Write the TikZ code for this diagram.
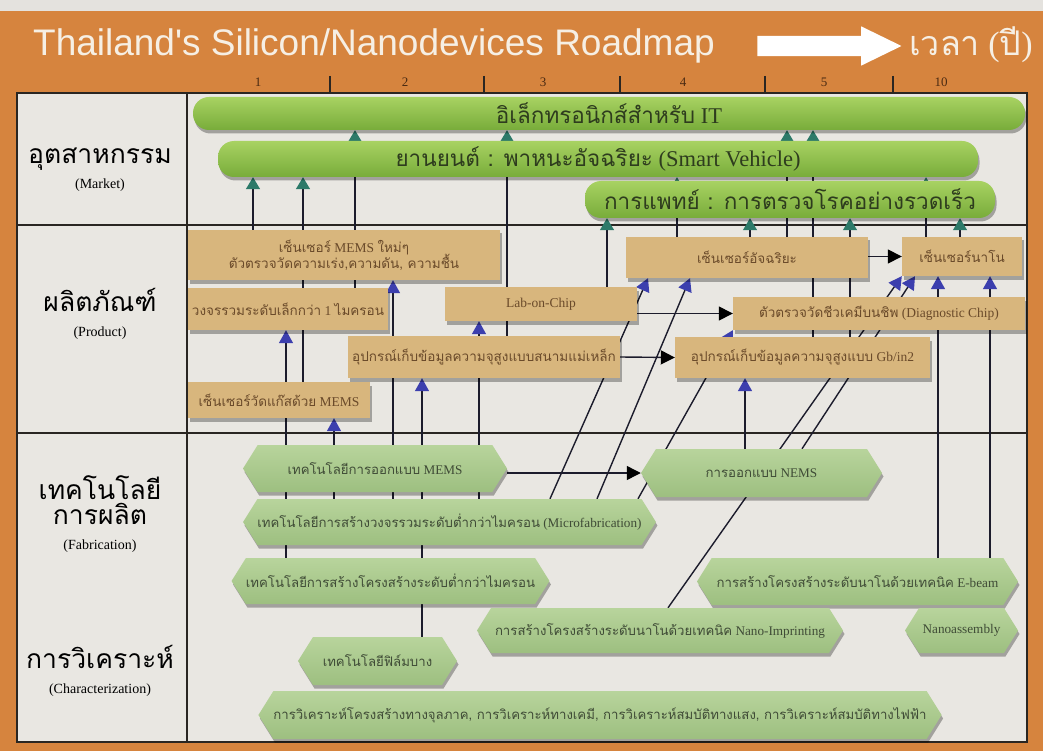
\documentclass[tikz,border=0pt]{standalone}
\usepackage{fontspec}
\setmainfont{Liberation Serif}
\newfontfamily\thai[Script=Thai]{Loma}
\newfontfamily\titlefont{Liberation Sans}
\usetikzlibrary{arrows.meta,shapes.symbols,shapes.arrows,shadows}
\pgfdeclarelayer{panel}
\pgfdeclarelayer{links}
\pgfsetlayers{panel,links,main}
\newcommand\tht[1]{{\thai #1}}
\newcommand\rowsubfont{\fontsize{14}{16}\selectfont}

\definecolor{orangebg}{HTML}{D6843E}
\definecolor{paper}{HTML}{E4E2DE}
\definecolor{panelbg}{HTML}{E9E7E2}
\definecolor{rulecol}{HTML}{2A2622}
\definecolor{mkttop}{HTML}{A8D262}
\definecolor{mktbot}{HTML}{78AC3A}
\definecolor{mkttext}{HTML}{2E3C1E}
\definecolor{prodfill}{HTML}{D8B67D}
\definecolor{prodtext}{HTML}{6A4A2A}
\definecolor{fabtop}{HTML}{B8D49C}
\definecolor{fabbot}{HTML}{9DBF80}
\definecolor{fabtext}{HTML}{3F4B36}
\definecolor{linecol}{HTML}{1C1C2C}
\definecolor{mktarrow}{HTML}{2D7A69}
\definecolor{prodarrow}{HTML}{3C3FAE}
\definecolor{ticktext}{HTML}{4A2A12}
\definecolor{titletext}{HTML}{F6EFE4}

\begin{document}
\begin{tikzpicture}[x=1pt,y=-1pt,
  rule/.style={draw=rulecol,line width=1.6pt},
  boxshadow/.style={drop shadow={shadow xshift=1.5pt,shadow yshift=-3.5pt,opacity=.3,fill=black}},
  mktbar/.style={rounded corners=16pt,top color=mkttop,bottom color=mktbot,boxshadow,
    inner sep=0pt,text=mkttext,font=\fontsize{22.5}{26}\selectfont},
  prodbox/.style={fill=prodfill,boxshadow,inner sep=0pt,align=center,text=prodtext,
    font=\fontsize{13.5}{16}\selectfont},
  fabbox/.style={signal,signal to=east and west,signal pointer angle=116,
    top color=fabtop,bottom color=fabbot,boxshadow,inner sep=0pt,text=fabtext,
    font=\fontsize{13.2}{16}\selectfont},
  rowlabel/.style={align=center,text=black,font=\fontsize{26.5}{29}\selectfont},
  link/.style={draw=linecol,line width=1.4pt},
  mktlink/.style={link,-{Triangle[width=14pt,length=12pt,color=mktarrow]}},
  prodlink/.style={link,-{Triangle[width=14pt,length=13pt,color=prodarrow]}},
  seqlink/.style={link,-{Triangle[width=14pt,length=14pt,color=black]}},
  ticknum/.style={text=ticktext,font=\fontsize{13}{15}\selectfont}
]
\useasboundingbox (0,0) rectangle (1043,751);

% frame, panel and grid
\begin{pgfonlayer}{panel}
  \fill[orangebg] (0,0) rectangle (1043,751);
  \fill[paper] (0,0) rectangle (1043,11);
  \fill[panelbg] (17,93) rectangle (1027,742);
  \draw[rule] (17,93) rectangle (1027,742);
  \draw[rule] (187,93) -- (187,742);
  \draw[rule] (17,225) -- (1027,225);
  \draw[rule] (17,433) -- (1027,433);
  \foreach \tx in {330,484,620,765,893}
    \draw[rulecol,line width=1.2pt] (\tx,76) -- (\tx,93);
\end{pgfonlayer}

% heading
\node[text=titletext,inner sep=0pt] (title) at (374,46)
  {\titlefont\fontsize{37}{40}\selectfont Thailand's Silicon/Nanodevices Roadmap};
\node[single arrow,fill=white,draw=none,minimum height=144pt,inner xsep=0pt,inner ysep=10pt,
  single arrow head extend=9.5pt,single arrow tip angle=52] (timearrow) at (819,46) {};
\node[text=titletext,inner sep=0pt,font=\fontsize{34}{38}\selectfont] (timelabel) at (971,45) {\tht{เวลา} (\tht{ปี})};

\node[ticknum] (y1) at (258,82) {1};
\node[ticknum] (y2) at (405,82) {2};
\node[ticknum] (y3) at (543,82) {3};
\node[ticknum] (y4) at (683,82) {4};
\node[ticknum] (y5) at (824,82) {5};
\node[ticknum] (y10) at (941,82) {10};

% row headings
\node[rowlabel] (lmarket) at (100,170) {\tht{อุตสาหกรรม}\\[-4pt]{\rowsubfont (Market)}};
\node[rowlabel] (lproduct) at (100,314) {\tht{ผลิตภัณฑ์}\\[-4pt]{\rowsubfont (Product)}};
\node[rowlabel] (lfab) at (100,514) {\tht{เทคโนโลยี}\\[-4pt]\tht{การผลิต}\\[-4pt]{\rowsubfont (Fabrication)}};
\node[rowlabel] (lchar) at (100,671) {\tht{การวิเคราะห์}\\[-4pt]{\rowsubfont (Characterization)}};

% market bars
\node[mktbar,minimum width=832pt,minimum height=33pt] (it) at (609,113.5) {\tht{อิเล็กทรอนิกส์สำหรับ} IT};
\node[mktbar,minimum width=760pt,minimum height=36pt] (veh) at (598,159) {\tht{ยานยนต์ : พาหนะอัจฉริยะ} (Smart Vehicle)};
\node[mktbar,minimum width=410pt,minimum height=37pt] (med) at (790,199.5) {\tht{การแพทย์ : การตรวจโรคอย่างรวดเร็ว}};

% products
\node[prodbox,minimum width=312pt,minimum height=50pt] (pmems) at (344,255)
  {\tht{เซ็นเซอร์} MEMS \tht{ใหม่ๆ}\\[-2pt]\tht{ตัวตรวจวัดความเร่ง,ความดัน, ความชื้น}};
\node[prodbox,minimum width=200pt,minimum height=42pt] (pvlsi) at (288,309) {\tht{วงจรรวมระดับเล็กกว่า} 1 \tht{ไมครอน}};
\node[prodbox,minimum width=192pt,minimum height=34pt] (plab) at (541,304) {Lab-on-Chip};
\node[prodbox,minimum width=272pt,minimum height=42pt] (pmag) at (484,357) {\tht{อุปกรณ์เก็บข้อมูลความจุสูงแบบสนามแม่เหล็ก}};
\node[prodbox,minimum width=182pt,minimum height=36pt] (pgas) at (279,400) {\tht{เซ็นเซอร์วัดแก๊สด้วย} MEMS};
\node[prodbox,minimum width=242pt,minimum height=41pt] (psmart) at (747,257.5) {\tht{เซ็นเซอร์อัจฉริยะ}};
\node[prodbox,minimum width=120pt,minimum height=39pt] (pnano) at (962,256.5) {\tht{เซ็นเซอร์นาโน}};
\node[prodbox,minimum width=292pt,minimum height=33pt] (pdiag) at (879,313.5) {\tht{ตัวตรวจวัดชีวเคมีบนชิพ} (Diagnostic Chip)};
\node[prodbox,minimum width=255pt,minimum height=41pt] (pgb) at (802.5,357.5) {\tht{อุปกรณ์เก็บข้อมูลความจุสูงแบบ} Gb/in2};

% fabrication and characterization
\node[fabbox,minimum width=264pt,minimum height=47pt] (fmems) at (375,468.5) {\tht{เทคโนโลยีการออกแบบ} MEMS};
\node[fabbox,minimum width=241pt,minimum height=48pt] (fnems) at (761.5,473) {\tht{การออกแบบ} NEMS};
\node[fabbox,minimum width=405pt,minimum height=46pt] (fmicro) at (449.5,522) {\tht{เทคโนโลยีการสร้างวงจรรวมระดับต่ำกว่าไมครอน} (Microfabrication)};
\node[fabbox,minimum width=315pt,minimum height=46pt] (fsub) at (390.5,581) {\tht{เทคโนโลยีการสร้างโครงสร้างระดับต่ำกว่าไมครอน}};
\node[fabbox,minimum width=321pt,minimum height=47pt] (febeam) at (857.5,581.5) {\tht{การสร้างโครงสร้างระดับนาโนด้วยเทคนิค} E-beam};
\node[fabbox,minimum width=366pt,minimum height=45pt] (fnano) at (660,630.5) {\tht{การสร้างโครงสร้างระดับนาโนด้วยเทคนิค} Nano-Imprinting};
\node[fabbox,minimum width=113pt,minimum height=45pt] (fassy) at (961.5,630.5) {Nanoassembly};
\node[fabbox,minimum width=159pt,minimum height=48pt] (fthin) at (377.5,661) {\tht{เทคโนโลยีฟิล์มบาง}};
\node[fabbox,minimum width=670pt,minimum height=48pt] (fchar) at (600,715)
  {\tht{การวิเคราะห์โครงสร้างทางจุลภาค, การวิเคราะห์ทางเคมี, การวิเคราะห์สมบัติทางแสง, การวิเคราะห์สมบัติทางไฟฟ้า}};

% connectors
\begin{pgfonlayer}{links}
  % products feeding the markets
  \draw[mktlink] (pmems.north -| 253,0) -- (veh.south -| 253,0);
  \draw[mktlink] (pgas.north -| 303,0) -- (veh.south -| 303,0);
  \draw[mktlink] (pvlsi.north -| 355,0) -- (it.south -| 355,0);
  \draw[mktlink] (pmag.north -| 507,0) -- (it.south -| 507,0);
  \draw[mktlink] (plab.north -| 607,0) -- (med.south -| 607,0);
  \draw[mktlink] (psmart.north -| 677,0) -- (veh.south -| 677,0);
  \draw[mktlink] (psmart.north -| 750,0) -- (med.south -| 750,0);
  \draw[mktlink] (psmart.north -| 787,0) -- (it.south -| 787,0);
  \draw[mktlink] (pgb.north -| 813,0) -- (it.south -| 813,0);
  \draw[mktlink] (pgb.north -| 850,0) -- (med.south -| 850,0);
  \draw[mktlink] (pnano.north -| 926,0) -- (veh.south -| 926,0);
  \draw[mktlink] (pnano.north -| 960,0) -- (med.south -| 960,0);
  % technologies feeding the products
  \draw[prodlink] (fsub.north -| 286,0) -- (pvlsi.south -| 286,0);
  \draw[prodlink] (fmicro.north -| 334,0) -- (pgas.south -| 334,0);
  \draw[prodlink] (fmicro.north -| 393,0) -- (pmems.south -| 393,0);
  \draw[prodlink] (fthin.north -| 422,0) -- (pmag.south -| 422,0);
  \draw[prodlink] (fmicro.north -| 479,0) -- (plab.south -| 479,0);
  \draw[prodlink] (fmicro.north -| 550,0) -- (psmart.south -| 648,0);
  \draw[prodlink] (fmicro.north -| 597,0) -- (psmart.south -| 690,0);
  \draw[prodlink] (fmicro.north -| 638,0) -- (pdiag.south west);
  \draw[prodlink] (fnems.north -| 745,0) -- (pgb.south -| 745,0);
  \draw[prodlink] (fnano.north -| 668,0) -- (pnano.south west);
  \draw[prodlink] (fnems.north -| 802,0) -- (pnano.south -| 915,0);
  \draw[prodlink] (febeam.north -| 938,0) -- (pnano.south -| 938,0);
  \draw[prodlink] (febeam.north -| 990,0) -- (pnano.south -| 990,0);
  % successors
  \draw[seqlink] (psmart.east |- pnano.west) -- (pnano.west);
  \draw[seqlink] (plab.east |- pdiag.west) -- (pdiag.west);
  \draw[seqlink] (pmag.east) -- (pgb.west);
  \draw[seqlink] (fmems.east |- fnems.west) -- (fnems.west);
\end{pgfonlayer}
\end{tikzpicture}
\end{document}
